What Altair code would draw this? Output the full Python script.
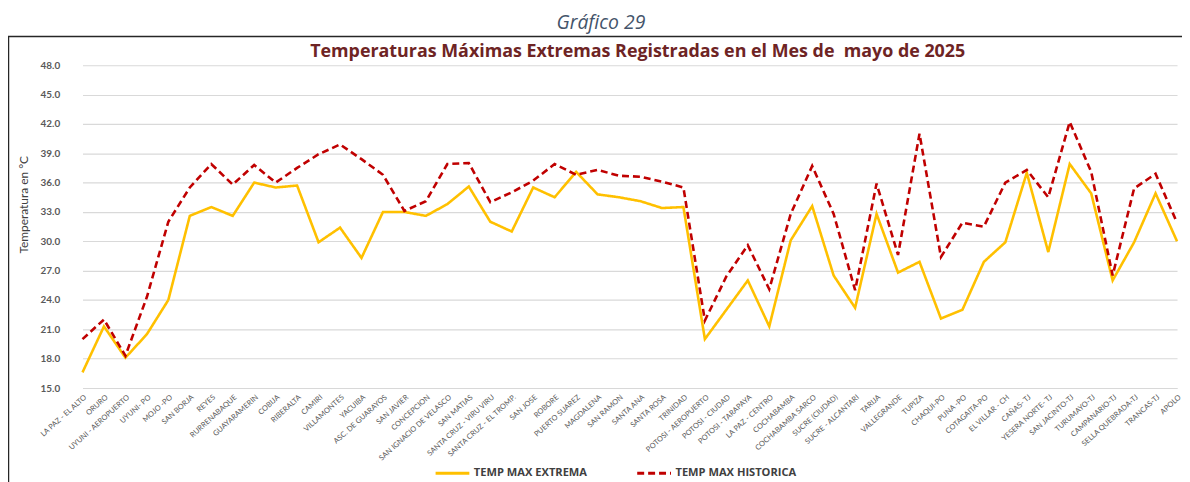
import altair as alt
import pandas as pd

stations = [
    "LA PAZ - EL ALTO", "ORURO", "UYUNI - AEROPUERTO", "UYUNI- PO", "MOJO -PO",
    "SAN BORJA", "REYES", "RURRENABAQUE", "GUAYARAMERIN", "COBIJA", "RIBERALTA",
    "CAMIRI", "VILLAMONTES", "YACUIBA", "ASC. DE GUARAYOS", "SAN JAVIER",
    "CONCEPCION", "SAN IGNACIO DE VELASCO", "SAN MATIAS", "SANTA CRUZ - VIRU VIRU",
    "SANTA CRUZ - EL TROMP.", "SAN JOSE", "ROBORE", "PUERTO SUAREZ", "MAGDALENA",
    "SAN RAMON", "SANTA ANA", "SANTA ROSA", "TRINIDAD", "POTOSI - AEROPUERTO",
    "POTOSI - CIUDAD", "POTOSI - TARAPAYA", "LA PAZ - CENTRO", "COCHABAMBA",
    "COCHABAMBA SARCO", "SUCRE (CIUDAD)", "SUCRE - ALCANTARI", "TARIJA",
    "VALLEGRANDE", "TUPIZA", "CHAQUI-PO", "PUNA -PO", "COTAGAITA-PO",
    "EL VILLAR - CH", "CAÑAS- TJ", "YESERA NORTE- TJ", "SAN JACINTO-TJ",
    "TURUMAYO-TJ", "CAMPANARIO-TJ", "SELLA QUEBRADA-TJ", "TRANCAS-TJ", "APOLO",
]

temp_max_extrema = [
    16.6, 21.3, 18.1, 20.5, 24.0, 32.6, 33.5, 32.6, 36.0, 35.5, 35.7,
    29.9, 31.4, 28.3, 33.0, 33.0, 32.6, 33.8, 35.6, 32.0, 31.0, 35.5,
    34.5, 37.1, 34.8, 34.5, 34.1, 33.4, 33.5, 20.0, 23.0, 26.0, 21.3,
    30.1, 33.6, 26.5, 23.2, 32.8, 26.8, 27.9, 22.1, 23.0, 27.9, 29.9,
    37.0, 28.9, 37.9, 34.9, 26.0, 29.9, 34.9, 30.0,
]

temp_max_historica = [
    20.0, 22.0, 18.3, 24.3, 32.0, 35.5, 37.9, 35.8, 37.8, 36.0, 37.5,
    38.9, 39.9, 38.4, 36.8, 33.1, 34.1, 37.9, 38.0, 34.0, 35.0, 36.2,
    37.9, 36.8, 37.3, 36.7, 36.6, 36.1, 35.5, 21.9, 26.4, 29.6, 25.1,
    32.8, 37.7, 32.8, 25.0, 35.9, 28.6, 41.0, 28.4, 31.9, 31.5, 36.0,
    37.3, 34.5, 42.2, 37.1, 26.5, 35.4, 36.9, 31.9,
]

series_names = ["TEMP MAX EXTREMA", "TEMP MAX HISTORICA"]
y_ticks = [15, 18, 21, 24, 27, 30, 33, 36, 39, 42, 45, 48]
caption_text = "Gráfico 29"
title_text = "Temperaturas Máximas Extremas Registradas en el Mes de \u00a0mayo de 2025"

rows = []
for s, a, b in zip(stations, temp_max_extrema, temp_max_historica):
    rows.append({"station": s, "serie": series_names[0], "temp": a})
    rows.append({"station": s, "serie": series_names[1], "temp": b})
df = pd.DataFrame(rows)

W, H = 1120, 325
FONT = "Lato"
FONT2 = "Open Sans"

legend_opts = dict(
    title=None, orient="none", legendX=367, legendY=392,
    direction="horizontal", symbolType="stroke", symbolSize=1156,
    symbolStrokeWidth=3, labelFont=FONT2, labelFontSize=11.2,
    labelFontWeight="bold", labelColor="#404040", columnPadding=44,
    labelOffset=3,
)

lines = alt.Chart(df).mark_line(strokeWidth=2.6).encode(
    x=alt.X(
        "station:N",
        sort=stations,
        scale=alt.Scale(type="point", range=[13, 1115], padding=0),
        axis=alt.Axis(
            title=None, labelAngle=-42, labelFontSize=7.5, labelColor="#595959",
            labelFont=FONT, labelOverlap=False, labelPadding=5, ticks=False,
            domainColor="#D9D9D9", grid=False, labelBound=False, labelFlush=False,
        ),
    ),
    y=alt.Y(
        "temp:Q",
        scale=alt.Scale(domain=[15, 48], nice=False, zero=False),
        axis=alt.Axis(
            title="Temperatura en °C", values=y_ticks, format=".1f",
            labelFontSize=10, labelFontWeight="bold", labelColor="#595959",
            labelFont=FONT, labelPadding=10, ticks=False, domain=False,
            gridColor="#D9D9D9", gridWidth=1.2, titleFont=FONT, titleFontSize=12,
            titleFontWeight="normal", titleColor="#404040", titleX=-39, titleY=140,
        ),
    ),
    color=alt.Color(
        "serie:N",
        scale=alt.Scale(domain=series_names, range=["#FFC000", "#C00000"]),
        legend=alt.Legend(**legend_opts),
    ),
    strokeDash=alt.StrokeDash(
        "serie:N",
        scale=alt.Scale(domain=series_names, range=[[1, 0], [7, 4]]),
        legend=alt.Legend(**legend_opts),
    ),
)

one = pd.DataFrame({"k": [0]})

frame = alt.Chart(one).mark_rect(
    fillOpacity=0, stroke="#262626", strokeWidth=1.5
).encode(
    x=alt.value(-61.5), x2=alt.value(1130), y=alt.value(-29), y2=alt.value(430)
)

caption = alt.Chart(one).mark_text(
    text=caption_text, font=FONT2, fontSize=19.5, fontStyle="italic",
    color="#44546A", align="center", baseline="middle",
).encode(x=alt.value(535), y=alt.value(-42))

heading = alt.Chart(one).mark_text(
    text=title_text, font=FONT2, fontSize=18, fontWeight="bold",
    color="#6E2424", align="center", baseline="middle",
).encode(x=alt.value(572), y=alt.value(-13))

chart = alt.layer(frame, caption, heading, lines).properties(
    width=W,
    height=H,
    padding={"left": 62, "top": 56, "right": 0, "bottom": 93},
    autosize=alt.AutoSizeParams(type="none"),
).configure_view(stroke=None)

chart.save("out.html", embed_options={"renderer": "svg", "actions": False})
